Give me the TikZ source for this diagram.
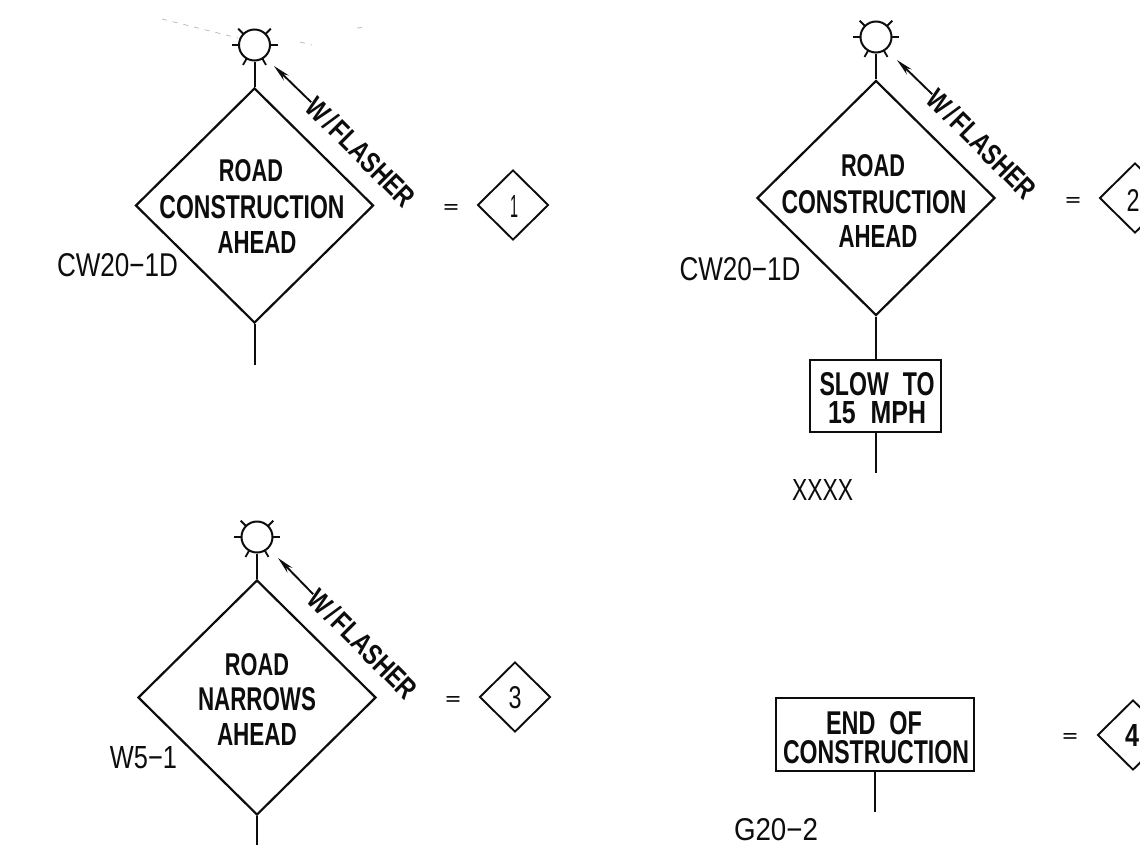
\documentclass[tikz,border=0pt]{standalone}
\usepackage{fontspec}
\usepackage{graphicx}
\setmainfont{Liberation Sans}
\usetikzlibrary{shapes.geometric,arrows.meta}
\definecolor{ink}{gray}{0.05}
\newcommand{\fitbold}[3]{\resizebox{#1pt}{#2pt}{\bfseries #3}}
\newcommand{\fitreg}[3]{\resizebox{#1pt}{#2pt}{#3}}
\newcommand{\flashword}{\fitbold{141}{21}{W\hspace{0.12em}/\hspace{0.12em}FLASHER}}
\tikzset{
  sign/.style={shape=diamond,draw=ink,line width=2.2pt,aspect=1,inner sep=0pt,minimum width=238pt,minimum height=235pt},
  keydiamond/.style={shape=diamond,draw=ink,line width=1.9pt,aspect=1,inner sep=0pt,minimum width=71pt,minimum height=70pt},
  lampbody/.style={shape=circle,draw=ink,line width=2pt,inner sep=0pt,minimum size=31pt},
  platebox/.style={shape=rectangle,draw=ink,line width=2pt,inner sep=0pt},
  txt/.style={inner sep=0pt,outer sep=0pt,text=ink},
  pole/.style={draw=ink,line width=2pt},
  ray/.style={draw=ink,line width=1.8pt},
  leader/.style={draw=ink,line width=1.9pt,-{Stealth[length=17pt,width=7pt]}},
  speck/.style={draw=gray!60,line width=0.7pt,dash pattern=on 5pt off 6pt}
}
\begin{document}
\begin{tikzpicture}[x=1pt,y=-1pt]
\clip (0,0) rectangle (1140,844);
\fill[white] (0,0) rectangle (1140,844);

% faint scan marks
\draw[speck] (162,19) -- (238,38);
\draw[speck] (300,42) -- (312,45);
\draw[speck] (357,28) -- (368,27);

% sign group 1
\node[lampbody] (alamp) at (254.5,45) {};
\foreach \a in {60,120,180,0,-45,-135}{
  \draw[ray] (254.5,45) ++ (\a:15.5) -- ++(\a:7.5);
}
\node[sign] (asign) at (254.5,205.5) {};
\coordinate (apoleend) at (254.5,365);
\draw[pole] (alamp.south) -- (asign.north);
\draw[pole] (asign.south) -- (apoleend);
\node[txt,rotate=-45] (aflash) at (361,152) {\flashword};
\coordinate (atip) at (274,66);
\draw[leader] (aflash.west) -- (atip);
\node[txt] (aroad) at (251,171) {\fitbold{64}{22}{ROAD}};
\node[txt] (acons) at (252,207) {\fitbold{185}{23}{CONSTRUCTION}};
\node[txt] (aahead) at (257,242) {\fitbold{79}{22}{AHEAD}};
\node[txt] (acode) at (117.5,265) {\fitreg{121}{23}{CW20−1D}};
\node[txt] (aeq) at (451,208) {\fitbold{15}{8}{=}};
\node[keydiamond] (akey) at (513,205) {};
\node[txt] (anum) at (514,206) {\fitreg{8}{22}{1}};

% sign group 2
\node[lampbody] (blamp) at (876,37) {};
\foreach \a in {60,120,180,0,-45,-135}{
  \draw[ray] (876,37) ++ (\a:15.5) -- ++(\a:7.5);
}
\node[sign] (bsign) at (876,198) {};
\node[platebox,minimum width=131pt,minimum height=72pt] (bplate) at (875.5,396) {};
\coordinate (bpoleend) at (876,473);
\draw[pole] (blamp.south) -- (bsign.north);
\draw[pole] (bsign.south) -- (bplate.north -| bsign.south);
\draw[pole] (bplate.south -| bsign.south) -- (bpoleend);
\node[txt,rotate=-45] (bflash) at (982,144) {\flashword};
\coordinate (btip) at (897,60);
\draw[leader] (bflash.west) -- (btip);
\node[txt] (broad) at (873,166) {\fitbold{64}{22}{ROAD}};
\node[txt] (bcons) at (874,202) {\fitbold{185}{23}{CONSTRUCTION}};
\node[txt] (bahead) at (878,236) {\fitbold{79}{22}{AHEAD}};
\node[txt] (bcode) at (740,269) {\fitreg{121}{23}{CW20−1D}};
\node[txt] (beq) at (1073,201) {\fitbold{15}{8}{=}};
\node[keydiamond] (bkey) at (1135,198) {};
\node[txt] (bnum) at (1133,200) {\fitreg{13}{22}{2}};
\node[txt] (bslow) at (877,384) {\fitbold{115}{23}{SLOW\hspace{0.6em}TO}};
\node[txt] (bmph) at (877,413) {\fitbold{98}{22}{15\hspace{0.6em}MPH}};
\node[txt] (bxxxx) at (822.5,490) {\fitreg{61}{21}{XXXX}};

% sign group 3
\node[lampbody] (clamp) at (257,537) {};
\foreach \a in {60,120,180,0,-45,-135}{
  \draw[ray] (257,537) ++ (\a:15.5) -- ++(\a:7.5);
}
\node[sign] (csign) at (257,697.5) {};
\coordinate (cpoleend) at (257,846);
\draw[pole] (clamp.south) -- (csign.north);
\draw[pole] (csign.south) -- (cpoleend);
\node[txt,rotate=-45] (cflash) at (363,644) {\flashword};
\coordinate (ctip) at (278,558);
\draw[leader] (cflash.west) -- (ctip);
\node[txt] (croad) at (257,665) {\fitbold{64}{22}{ROAD}};
\node[txt] (cnarrows) at (257,699) {\fitbold{118}{23}{NARROWS}};
\node[txt] (cahead) at (257,734) {\fitbold{80}{22}{AHEAD}};
\node[txt] (ccode) at (143.5,758) {\fitreg{67}{22}{W5−1}};
\node[txt] (ceq) at (453,700) {\fitbold{15}{8}{=}};
\node[keydiamond] (ckey) at (515,697) {};
\node[txt] (cnum) at (515,698) {\fitreg{13}{22}{3}};

% sign group 4
\node[platebox,minimum width=198pt,minimum height=73pt] (dplate) at (875,734.5) {};
\coordinate (dpoleend) at (875,812);
\draw[pole] (dplate.south) -- (dpoleend);
\node[txt] (dend) at (874,723) {\fitbold{96}{23}{END\hspace{0.6em}OF}};
\node[txt] (dcons) at (876,752) {\fitbold{186}{23}{CONSTRUCTION}};
\node[txt] (dcode) at (776,830) {\fitreg{84}{22}{G20−2}};
\node[txt] (deq) at (1070,737) {\fitbold{15}{8}{=}};
\node[keydiamond] (dkey) at (1133,735) {};
\node[txt] (dnum) at (1132,735) {\fitbold{14}{22}{4}};
\end{tikzpicture}
\end{document}
